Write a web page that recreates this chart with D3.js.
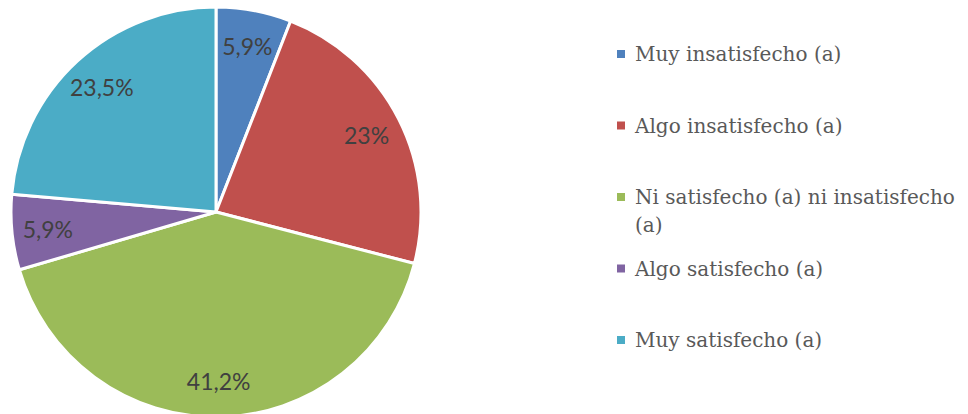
<!DOCTYPE html>
<html>
<head>
<meta charset="utf-8">
<script src="https://cdn.jsdelivr.net/npm/d3@7"></script>
<style>
  html, body { margin: 0; padding: 0; background: #fff; }
  svg { display: block; }
</style>
</head>
<body>
<svg id="chart" width="968" height="414"></svg>
<script>
// Satisfaction categories and their shares (%)
const categories = [
  "Muy insatisfecho (a)",
  "Algo insatisfecho (a)",
  "Ni satisfecho (a) ni insatisfecho (a)",
  "Algo satisfecho (a)",
  "Muy satisfecho (a)"
];
const values = [5.9, 23, 41.2, 5.9, 23.5];
const valueLabels = ["5,9%", "23%", "41,2%", "5,9%", "23,5%"];
const colors = ["#4F81BD", "#C0504D", "#9BBB59", "#8064A2", "#4BACC6"];

const svg = d3.select("#chart");
const cx = 216, cy = 212, radius = 205;

const pie = d3.pie().sort(null).value(d => d.value);
const data = categories.map((c, i) => ({ name: c, value: values[i], label: valueLabels[i], color: colors[i] }));
const arcs = pie(data);

const arc = d3.arc().innerRadius(0).outerRadius(radius);
const labelArc = d3.arc().innerRadius(169).outerRadius(169);

const g = svg.append("g").attr("transform", `translate(${cx},${cy})`);

g.selectAll("path.slice")
  .data(arcs)
  .join("path")
  .attr("class", "slice")
  .attr("d", arc)
  .attr("fill", d => d.data.color)
  .attr("stroke", "#fff")
  .attr("stroke-width", 3)
  .attr("stroke-linejoin", "round");

g.selectAll("text.value")
  .data(arcs)
  .join("text")
  .attr("class", "value")
  .attr("transform", d => `translate(${labelArc.centroid(d)})`)
  .attr("text-anchor", "middle")
  .attr("dominant-baseline", "central")
  .attr("font-family", "Lato, 'Liberation Sans', sans-serif")
  .attr("font-size", 23)
  .attr("fill", "#404040")
  .text(d => d.data.label);

// Legend
const legendX = 617, legendY0 = 54, legendStep = 71.5, lineHeight = 28;
const legend = svg.append("g")
  .attr("font-family", "'DejaVu Serif', serif")
  .attr("font-size", 20)
  .attr("fill", "#595959");

const wrapWidth = 330;
data.forEach((d, i) => {
  const y = legendY0 + i * legendStep;
  legend.append("rect")
    .attr("x", legendX).attr("y", y - 4)
    .attr("width", 8).attr("height", 8)
    .attr("fill", d.color);
  const t = legend.append("text")
    .attr("x", legendX + 18).attr("y", y)
    .attr("dominant-baseline", "central");
  // wrap long entries onto extra lines
  const words = d.name.split(" ");
  let line = [];
  let tspan = t.append("tspan").attr("x", legendX + 18).attr("dy", 0);
  words.forEach(w => {
    line.push(w);
    tspan.text(line.join(" "));
    if (tspan.node().getComputedTextLength() > wrapWidth && line.length > 1) {
      line.pop();
      tspan.text(line.join(" "));
      line = [w];
      tspan = t.append("tspan").attr("x", legendX + 18).attr("dy", lineHeight).text(w);
    }
  });
});
</script>
</body>
</html>
